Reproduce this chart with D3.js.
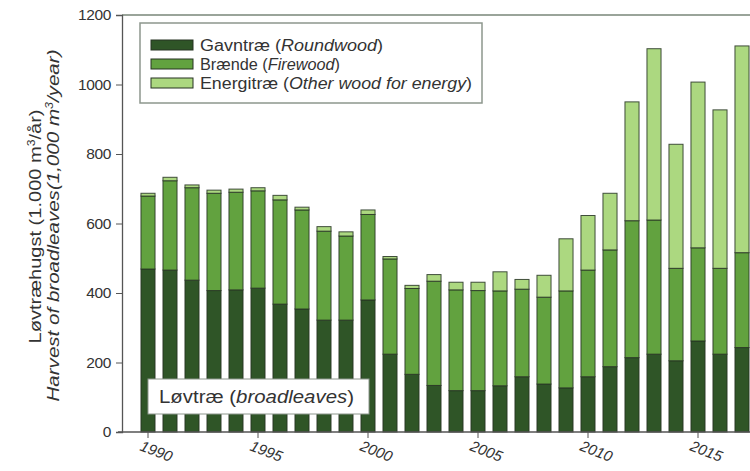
<!DOCTYPE html>
<html>
<head>
<meta charset="utf-8">
<script src="https://cdn.jsdelivr.net/npm/d3@7"></script>
<style>
  html, body { margin: 0; padding: 0; background: #fff; }
  svg { display: block; font-family: "Liberation Sans", Arial, sans-serif; }
</style>
</head>
<body>
<svg id="chart" width="750" height="471"></svg>
<script>
// Harvest of broadleaves in Denmark, 1,000 m³ per year
const years = d3.range(1990, 2018);
const roundwood = [469, 466, 437, 407, 409, 414, 368, 354, 322, 322, 380, 224, 166, 134,
                   119, 119, 133, 159, 138, 127, 159, 188, 214, 224, 205, 262, 224, 243];
const firewood  = [210, 257, 266, 280, 281, 280, 300, 285, 256, 242, 246, 274, 247, 300,
                   290, 288, 273, 252, 250, 279, 307, 336, 394, 386, 266, 268, 247, 273];
const energy    = [8, 10, 8, 9, 9, 9, 13, 8, 13, 12, 13, 7, 9, 19,
                   22, 24, 55, 28, 63, 150, 157, 163, 342, 493, 357, 477, 456, 595];
const yTicks = [0, 200, 400, 600, 800, 1000, 1200];
const xTicks = [1990, 1995, 2000, 2005, 2010, 2015];

const seriesKeys = ["roundwood", "firewood", "energy"];
const seriesNames = [
  ["Gavntræ ", "Roundwood"],
  ["Brænde ", "Firewood"],
  ["Energitræ ", "Other wood for energy"]
];
const colors = ["#2f5527", "#62a23f", "#acd880"];

const rows = years.map((y, i) => ({
  year: y, roundwood: roundwood[i], firewood: firewood[i], energy: energy[i]
}));

const svg = d3.select("#chart");
const plotL = 122, plotT = 15, plotB = 432, plotR = 750;

const x = d3.scaleBand()
  .domain(years)
  .range([137, 137 + 22 * years.length])
  .paddingInner(0.36)
  .paddingOuter(0.18);
const y = d3.scaleLinear().domain([0, 1200]).range([plotB, plotT]);

const stack = d3.stack().keys(seriesKeys)(rows);

// stretch a text element along its run so it spans the given length
function fitLength(sel, len) {
  sel.attr("textLength", len).attr("lengthAdjust", "spacingAndGlyphs");
}

// bars
svg.append("g")
  .selectAll("g")
  .data(stack)
  .join("g")
  .attr("fill", (d, i) => colors[i])
  .selectAll("rect")
  .data(d => d)
  .join("rect")
  .attr("x", d => x(d.data.year))
  .attr("width", x.bandwidth())
  .attr("y", d => y(d[1]))
  .attr("height", d => y(d[0]) - y(d[1]))
  .attr("stroke", "#263323")
  .attr("stroke-opacity", 0.85)
  .attr("stroke-width", 1);

// frame: top rule
svg.append("line")
  .attr("x1", plotL).attr("x2", plotR)
  .attr("y1", plotT).attr("y2", plotT)
  .attr("stroke", "#9aa49a").attr("stroke-width", 2);

// y axis
const yAxis = svg.append("g")
  .attr("transform", `translate(${plotL},0)`)
  .call(d3.axisLeft(y).tickValues(yTicks).tickSize(6).tickPadding(5).tickFormat(d3.format("d")));
yAxis.select(".domain").attr("stroke", "#555").attr("stroke-width", 1.3);
yAxis.selectAll(".tick line").attr("stroke", "#555");
yAxis.selectAll(".tick text")
  .attr("font-size", 15.5).attr("fill", "#333")
  .attr("font-family", "'Liberation Sans', Arial, sans-serif")
  .style("letter-spacing", "-0.4px");

// x axis
const xCenter = d => x(d) + x.bandwidth() / 2;
const xAxisG = svg.append("g").attr("transform", `translate(0,${plotB})`);
xAxisG.append("line")
  .attr("x1", plotL - 4).attr("x2", plotR)
  .attr("stroke", "#555").attr("stroke-width", 1.3);
const xt = xAxisG.selectAll("g.tick")
  .data(xTicks)
  .join("g")
  .attr("class", "tick")
  .attr("transform", d => `translate(${xCenter(d)},0)`);
xt.append("line").attr("y2", 6).attr("stroke", "#555");
xt.append("text")
  .attr("transform", "translate(-9,18) rotate(21)")
  .attr("font-size", 15)
  .attr("font-style", "italic")
  .attr("fill", "#333")
  .text(d => d);

// y axis titles
const yMid = (plotT + plotB) / 2 + 3;
const yt1 = svg.append("text")
  .attr("transform", `translate(41,${yMid}) rotate(-90)`)
  .attr("text-anchor", "middle")
  .attr("font-size", 16.5)
  .attr("fill", "#333")
  .call(t => {
    t.append("tspan").text("Løvtræhugst (1.000 m");
    t.append("tspan").attr("font-size", 10).attr("dy", -6).text("3");
    t.append("tspan").attr("dy", 6).text("/år)");
  });
fitLength(yt1, 234);
const yt2 = svg.append("text")
  .attr("transform", `translate(59,${yMid - 1}) rotate(-90)`)
  .attr("text-anchor", "middle")
  .attr("font-size", 16.5)
  .attr("font-style", "italic")
  .attr("fill", "#333")
  .call(t => {
    t.append("tspan").text("Harvest of broadleaves(1,000 m");
    t.append("tspan").attr("font-size", 10).attr("dy", -6).text("3");
    t.append("tspan").attr("dy", 6).text("/year)");
  });
fitLength(yt2, 352);

// legend
const legendLen = [183, 140, 272];
const lg = svg.append("g");
lg.append("rect")
  .attr("x", 140).attr("y", 23).attr("width", 342).attr("height", 80)
  .attr("fill", "#fff").attr("stroke", "#8d978d").attr("stroke-width", 1.5);
seriesNames.forEach((nm, i) => {
  const cy = 45 + i * 19;
  lg.append("rect")
    .attr("x", 151).attr("y", cy - 5).attr("width", 42).attr("height", 10)
    .attr("fill", colors[i]).attr("stroke", "#263323").attr("stroke-width", 1);
  const t = lg.append("text")
    .attr("x", 200).attr("y", cy + 5.5)
    .attr("font-size", 16).attr("fill", "#333");
  t.append("tspan").text(nm[0] + "(");
  t.append("tspan").attr("font-style", "italic").text(nm[1]);
  t.append("tspan").text(")");
  fitLength(t, legendLen[i]);
});

// panel label
const pl = svg.append("g");
pl.append("rect")
  .attr("x", 148).attr("y", 379).attr("width", 221).attr("height", 35)
  .attr("fill", "#fff").attr("stroke", "#8d978d").attr("stroke-width", 1);
const plt = pl.append("text")
  .attr("x", 159).attr("y", 403)
  .attr("font-size", 17.5).attr("fill", "#333");
plt.append("tspan").text("Løvtræ (");
plt.append("tspan").attr("font-style", "italic").text("broadleaves");
plt.append("tspan").text(")");
fitLength(plt, 195);
</script>
</body>
</html>
